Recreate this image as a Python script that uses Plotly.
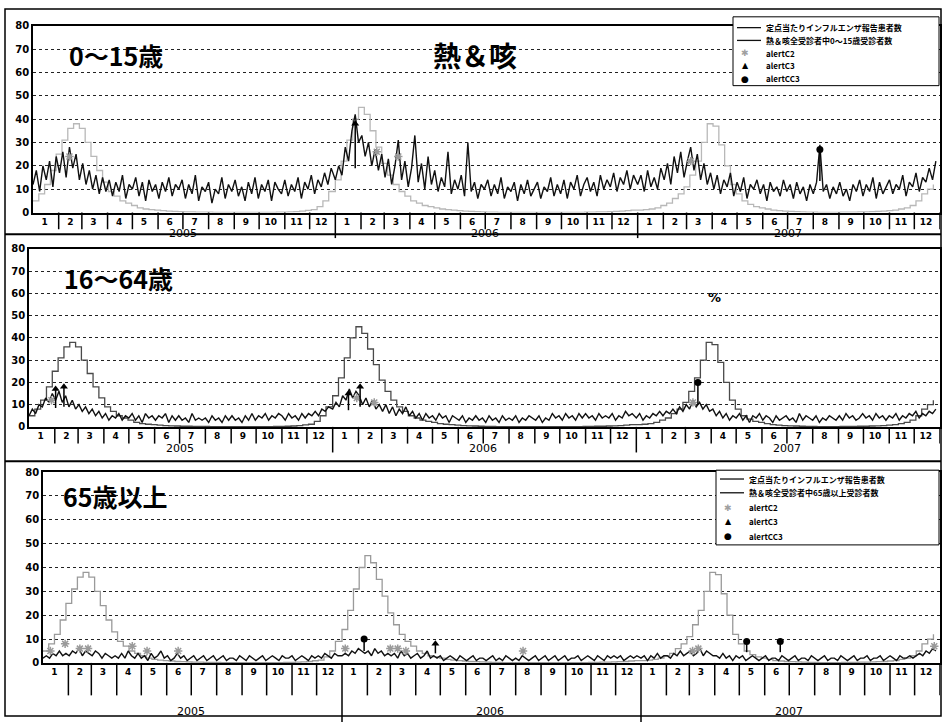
import datetime as dt
import plotly.graph_objects as go

W, H = 943, 723

# ---------------- data ----------------
years = [2005, 2006, 2007]
month_labels = [str(m) for m in range(1, 13)]
panel_titles = ["0～15歳", "16～64歳", "65歳以上"]
chart_title = "熱＆咳"

legend_names_p1 = ["定点当たりインフルエンザ報告患者数", "熱＆咳全受診者中0～15歳受診者数",
                   "alertC2", "alertC3", "alertCC3"]
legend_names_p3 = ["定点当たりインフルエンザ報告患者数", "熱＆咳全受診者中65歳以上受診者数",
                   "alertC2", "alertC3", "alertCC3"]

# weekly influenza reports per sentinel (week starting Jan 1 + 7k)
flu_2005 = [5, 8, 12, 18, 25, 31, 36, 38, 36, 30, 24, 18, 13, 9, 7, 5, 4, 3, 2, 1.5, 1.2, 1, 0.8, 0.6,
            0.5, 0.4, 0.3, 0.3, 0.2, 0.2, 0.2, 0.1, 0.1, 0.1, 0.1, 0.1, 0.1, 0.1, 0.1, 0.1, 0.1, 0.1,
            0.2, 0.2, 0.3, 0.4, 0.6, 0.9, 1.2, 2.5, 5, 9]
flu_2006 = [14, 22, 31, 40, 45, 42, 35, 28, 21, 16, 12, 9, 7, 5, 4, 3, 2.5, 2, 1.5, 1.2, 1, 0.8, 0.6,
            0.5, 0.4, 0.3, 0.2, 0.2, 0.1, 0.1, 0.1, 0.1, 0.1, 0.1, 0.1, 0.1, 0.1, 0.1, 0.1, 0.1, 0.1,
            0.1, 0.1, 0.2, 0.2, 0.3, 0.3, 0.4, 0.5, 0.6, 0.8, 1]
flu_2007 = [1, 1.2, 1.5, 2, 3, 4, 6, 8, 11, 16, 22, 30, 38, 37, 29, 20, 12, 8, 5, 3.5, 2.5, 2, 1.5, 1,
            0.8, 0.6, 0.5, 0.4, 0.3, 0.2, 0.2, 0.1, 0.1, 0.1, 0.1, 0.2, 0.2, 0.2, 0.3, 0.3, 0.4, 0.5,
            0.6, 0.8, 1, 1.5, 2, 3, 5, 8, 10, 12]

# syndromic % (every 4 days from Jan 1)
p1_2005 = [12, 18, 9, 20, 14, 22, 11, 24, 17, 26, 15, 28, 19, 25, 14, 21, 12, 18, 10, 16, 8, 15, 9,
           14, 7, 13, 9, 16, 6, 12, 10, 15, 7, 13, 5, 14, 9, 12, 6, 13, 9, 15, 7, 12, 10,
           14, 6, 12, 8, 16, 5, 11, 9, 13, 4, 10, 8, 15, 6, 12, 9, 14, 7, 11, 5, 13, 8, 15,
           6, 12, 9, 14, 5, 13, 10, 8, 14, 7, 12, 9, 15, 6, 13, 10, 16, 8, 14, 11, 17, 12, 19]
p1_2006 = [14, 20, 16, 28, 22, 35, 42, 30, 33, 24, 30, 20, 27, 18, 25, 15, 23, 12, 20, 31, 14, 22, 11,
           19, 33, 13, 21, 10, 24, 12, 18, 9, 15, 11, 26, 8, 14, 10, 16, 7, 30, 9, 13, 6, 12,
           10, 14, 7, 12, 8, 15, 6, 11, 9, 13, 5, 12, 8, 14, 7, 10, 13, 6, 11, 9, 15, 7, 12,
           8, 14, 6, 13, 10, 16, 7, 12, 15, 9, 13, 7, 16, 10, 14, 11, 17, 9, 15, 12, 18, 10, 16]
p1_2007 = [12, 16, 9, 18, 11, 15, 10, 19, 14, 21, 12, 24, 17, 26, 15, 22, 28, 18, 25, 14, 21, 12, 17,
           10, 16, 8, 14, 11, 17, 7, 13, 9, 15, 6, 12, 10, 14, 8, 12, 5, 13, 9, 11, 7, 14,
           9, 12, 6, 13, 8, 11, 5, 12, 8, 13, 29, 9, 12, 6, 11, 8, 13, 7, 10, 5, 12, 9, 14,
           7, 12, 9, 15, 6, 13, 8, 11, 14, 8, 12, 10, 16, 7, 13, 11, 17, 9, 15, 13, 19, 14, 22]

p2_2005 = [5, 8, 6, 10, 9, 13, 11, 15, 12, 16, 11, 14, 9, 12, 8, 10, 7, 9, 6, 8, 5, 7, 4,
           6, 3, 5, 4, 6, 3, 5, 4, 6, 3, 5, 2, 6, 4, 5, 3, 5, 4, 6, 2, 5, 3,
           5, 3, 4, 2, 6, 3, 4, 3, 4, 2, 5, 3, 4, 2, 5, 3, 5, 3, 4, 2, 5, 3, 6,
           3, 5, 4, 6, 3, 5, 4, 6, 5, 3, 6, 4, 5, 3, 6, 4, 6, 5, 7, 5, 8, 7, 9]
p2_2006 = [8, 11, 9, 14, 12, 17, 13, 16, 14, 10, 13, 9, 12, 8, 10, 7, 10, 6, 9, 5, 8, 6, 9,
           5, 7, 4, 6, 3, 6, 4, 5, 3, 6, 4, 5, 2, 5, 4, 3, 5, 2, 4, 3, 5, 3,
           4, 2, 5, 3, 4, 2, 5, 3, 4, 3, 5, 2, 4, 3, 5, 4, 3, 5, 2, 4, 3, 6, 4,
           5, 3, 6, 4, 5, 3, 6, 4, 6, 4, 5, 3, 6, 4, 5, 4, 6, 3, 5, 4, 7, 5, 6]
p2_2007 = [4, 6, 3, 5, 4, 6, 5, 7, 5, 7, 6, 8, 6, 9, 7, 10, 8, 12, 9, 11, 8, 10, 7,
           8, 5, 7, 4, 6, 3, 5, 4, 6, 3, 5, 2, 5, 4, 6, 3, 5, 4, 2, 5, 3, 4,
           5, 3, 4, 2, 6, 3, 5, 4, 3, 5, 2, 4, 3, 5, 4, 3, 5, 3, 6, 4, 5, 3, 4,
           6, 4, 5, 3, 6, 4, 5, 3, 5, 4, 6, 3, 5, 4, 6, 5, 7, 4, 6, 5, 7, 6, 8]

p3_2005 = [2, 3, 2, 4, 3, 5, 3, 4, 3, 5, 4, 6, 3, 5, 4, 3, 5, 4, 2, 4, 3, 2, 3,
           2, 4, 2, 5, 3, 2, 4, 2, 3, 1, 4, 2, 3, 5, 2, 3, 1, 2, 4, 2, 3, 1,
           2, 3, 1, 2, 3, 1, 2, 3, 1, 2, 3, 1, 2, 2, 1, 3, 2, 1, 3, 2, 1, 2, 3,
           1, 2, 3, 2, 1, 3, 2, 2, 3, 1, 2, 3, 2, 1, 3, 2, 3, 2, 4, 3, 2, 4, 3]
p3_2006 = [3, 4, 3, 5, 4, 6, 5, 4, 5, 3, 6, 4, 5, 3, 4, 3, 4, 2, 5, 3, 4, 2, 3,
           4, 2, 3, 5, 2, 3, 2, 3, 1, 2, 3, 2, 1, 3, 2, 1, 2, 3, 1, 2, 2, 1,
           2, 3, 1, 2, 1, 3, 2, 1, 2, 1, 3, 2, 1, 2, 3, 1, 2, 3, 1, 2, 3, 1, 2,
           3, 1, 2, 2, 3, 1, 2, 3, 2, 1, 3, 2, 1, 3, 2, 3, 2, 3, 1, 2, 3, 2, 3]
p3_2007 = [2, 3, 1, 3, 2, 4, 2, 3, 3, 2, 4, 3, 5, 3, 4, 5, 3, 4, 6, 3, 5, 4, 3,
           3, 2, 4, 2, 3, 1, 3, 2, 3, 1, 2, 3, 2, 1, 2, 3, 1, 2, 2, 1, 3, 2,
           1, 2, 3, 1, 2, 2, 1, 3, 2, 1, 2, 3, 1, 2, 2, 1, 3, 2, 1, 2, 3, 1, 2,
           2, 3, 1, 2, 2, 3, 1, 2, 3, 2, 1, 3, 2, 2, 3, 2, 3, 4, 3, 5, 4, 6, 5]

# alerts: (date, value)
alertC2_p1 = [("2005-02-14", 24), ("2006-02-20", 26), ("2006-03-18", 24), ("2007-03-06", 22)]
alertC3_p1 = [("2006-01-25", 38)]
alertCC3_p1 = [("2007-08-09", 27)]

alertC2_p2 = [("2005-01-28", 12), ("2006-01-30", 13), ("2006-02-20", 11), ("2007-03-10", 11)]
alertC3_p2 = [("2005-02-02", 17), ("2005-02-12", 18), ("2006-01-20", 15), ("2006-02-03", 18)]
alertCC3_p2 = [("2007-03-16", 20)]

alertC2_p3 = [("2005-01-10", 5), ("2005-01-28", 8), ("2005-02-15", 6), ("2005-02-25", 6),
              ("2005-04-20", 7), ("2005-05-08", 5), ("2005-06-15", 5), ("2006-01-05", 6),
              ("2006-03-01", 6), ("2006-03-10", 6), ("2006-03-20", 5), ("2006-08-10", 5),
              ("2007-03-05", 5), ("2007-03-12", 6), ("2007-12-25", 7)]
alertC3_p3 = [("2006-04-25", 8)]
alertCC3_p3 = [("2006-01-28", 10), ("2007-05-10", 9), ("2007-06-20", 9)]

# ---------------- helpers ----------------
def weekly_dates(year, n):
    return [dt.date(year, 1, 1) + dt.timedelta(days=7 * k) for k in range(n)]

def four_day_dates(year, n):
    return [dt.date(year, 1, 1) + dt.timedelta(days=4 * k) for k in range(n)]

flu_x, flu_y = [], []
for y, vals in zip(years, [flu_2005, flu_2006, flu_2007]):
    flu_x += weekly_dates(y, len(vals))
    flu_y += vals

def series(parts):
    xs, ys = [], []
    for y, vals in zip(years, parts):
        xs += four_day_dates(y, len(vals))
        ys += vals
    return xs, ys

syn = [series([p1_2005, p1_2006, p1_2007]),
       series([p2_2005, p2_2006, p2_2007]),
       series([p3_2005, p3_2006, p3_2007])]
alerts = [(alertC2_p1, alertC3_p1, alertCC3_p1),
          (alertC2_p2, alertC3_p2, alertCC3_p2),
          (alertC2_p3, alertC3_p3, alertCC3_p3)]

def pyp(p):
    return 1 - p / H

def pxp(p):
    return p / W

panels = [
    dict(top=20, bot=210, left=33, right=940, cell=17, yearline=26, yearlab=21),
    dict(top=247, bot=428, left=29, right=940, cell=17, yearline=26, yearlab=22),
    dict(top=474, bot=668, left=43, right=940, cell=33, yearline=60, yearlab=49),
]
flu_colors = ["#b8b8b8", "#4a4a4a", "#9a9a9a"]

FONT = "Noto Sans CJK JP"
fig = go.Figure()
layout = dict(width=W, height=H, margin=dict(l=0, r=0, t=0, b=0), autosize=False,
              paper_bgcolor="white", plot_bgcolor="white", showlegend=False,
              font=dict(family=FONT, color="black"))
shapes, annotations = [], []

month_starts = [dt.date(y, m, 1) for y in years for m in range(1, 13)]
mid_months = [d + dt.timedelta(days=14) for d in month_starts]
tick_text = month_labels * len(years)

for i, pn in enumerate(panels):
    sfx = "" if i == 0 else str(i + 1)
    xa, ya = "x" + sfx, "y" + sfx
    common = dict(xaxis=xa, yaxis=ya, showlegend=False)

    fig.add_trace(go.Scatter(x=flu_x, y=flu_y, mode="lines",
                             line=dict(color=flu_colors[i], width=1.3, shape="hv"), **common))
    sx, sy = syn[i]
    fig.add_trace(go.Scatter(x=sx, y=sy, mode="lines", line=dict(color="#111111", width=1.4), **common))
    c2, c3, cc3 = alerts[i]
    fig.add_trace(go.Scatter(x=[a[0] for a in c2], y=[a[1] for a in c2], mode="markers",
                             marker=dict(symbol="asterisk-open", size=7, color="#9a9a9a",
                                         line=dict(width=1.5, color="#9a9a9a")), **common))
    fig.add_trace(go.Scatter(x=[a[0] for a in c3], y=[a[1] for a in c3], mode="markers",
                             marker=dict(symbol="triangle-up", size=7, color="black"),
                             error_y=dict(type="data", symmetric=False, array=[0] * len(c3),
                                          arrayminus=[a[1] * 0.5 for a in c3], width=0, thickness=1.5,
                                          color="black"), **common))
    fig.add_trace(go.Scatter(x=[a[0] for a in cc3], y=[a[1] for a in cc3], mode="markers",
                             marker=dict(symbol="circle", size=7, color="black"),
                             error_y=dict(type="data", symmetric=False, array=[0] * len(cc3),
                                          arrayminus=[a[1] * 0.5 for a in cc3], width=0, thickness=1.5,
                                          color="black"), **common))

    layout["xaxis" + sfx] = dict(domain=[pxp(pn["left"]), pxp(pn["right"])], anchor=ya, type="date",
                                 range=["2005-01-01", "2008-01-01"], showgrid=False, zeroline=False,
                                 showline=True, linecolor="black", linewidth=1.5, mirror=True,
                                 tickmode="array", tickvals=mid_months, ticktext=tick_text, ticks="",
                                 tickfont=dict(size=9, family="DejaVu Sans", weight="bold"), tickangle=0)
    layout["yaxis" + sfx] = dict(domain=[pyp(pn["bot"]), pyp(pn["top"])], anchor=xa, range=[0, 80],
                                 tickmode="linear", tick0=0, dtick=10, showgrid=True, gridcolor="#222222",
                                 griddash="dot", gridwidth=1, zeroline=False, showline=True,
                                 linecolor="black", linewidth=1.5, mirror=True, ticks="",
                                 tickfont=dict(size=10, family="DejaVu Sans", weight="bold"))

    for d in month_starts[1:] + [dt.date(2008, 1, 1)]:
        long_line = d.month == 1 and d.year in (2006, 2007)
        y1 = pn["bot"] + (pn["yearline"] if long_line else pn["cell"])
        shapes.append(dict(type="line", xref=xa, yref="paper", x0=d, x1=d,
                           y0=pyp(pn["bot"]), y1=pyp(y1), line=dict(color="black", width=1.5)))
    for y in years:
        annotations.append(dict(text=str(y), xref=xa, yref="paper", x=dt.date(y, 7, 1),
                                y=pyp(pn["bot"] + pn["yearlab"]), showarrow=False, yanchor="middle",
                                xanchor="center", font=dict(size=11, family="DejaVu Sans", color="black")))

# panel titles
title_pos = [(116, 50), (118, 277), (115, 498)]
for t, (tx, ty) in zip(panel_titles, title_pos):
    annotations.append(dict(text=t, xref="paper", yref="paper", x=pxp(tx), y=pyp(ty), showarrow=False,
                            xanchor="center", yanchor="middle",
                            font=dict(size=25, family=FONT, weight="bold", color="black")))
annotations.append(dict(text=chart_title, xref="paper", yref="paper", x=pxp(475), y=pyp(50), showarrow=False,
                        xanchor="center", yanchor="middle",
                        font=dict(size=28, family=FONT, weight="bold", color="black")))
annotations.append(dict(text="%", xref="paper", yref="paper", x=pxp(714), y=pyp(296), showarrow=False,
                        xanchor="center", yanchor="middle",
                        font=dict(size=13, family="DejaVu Sans", weight="bold", color="black")))

# outer frame and panel separators
shapes.append(dict(type="rect", xref="paper", yref="paper", x0=pxp(5), x1=pxp(941), y0=pyp(722), y1=pyp(3),
                   line=dict(color="black", width=1.5)))
for sep in (232, 463):
    shapes.append(dict(type="line", xref="paper", yref="paper", x0=pxp(5), x1=pxp(941), y0=pyp(sep),
                       y1=pyp(sep), line=dict(color="black", width=2)))

# hand-drawn legend boxes (compact, like the original)
def draw_legend(box, rows, names, line_colors):
    x0, y0, x1, y1 = box
    shapes.append(dict(type="rect", xref="paper", yref="paper", x0=pxp(x0), x1=pxp(x1), y0=pyp(y1), y1=pyp(y0),
                       line=dict(color="black", width=1), fillcolor="white", layer="above"))
    sx0, sx1, tx = x0 + 4, x0 + 28, x0 + 32
    for k in range(2):
        shapes.append(dict(type="line", xref="paper", yref="paper", x0=pxp(sx0), x1=pxp(sx1),
                           y0=pyp(rows[k]), y1=pyp(rows[k]), line=dict(color=line_colors[k], width=1.3),
                           layer="above"))
    glyphs = [("✱", "#a0a0a0", 9), ("▲", "black", 8), ("●", "black", 9)]
    for k, (g, c, s) in enumerate(glyphs):
        annotations.append(dict(text=g, xref="paper", yref="paper", x=pxp((sx0 + sx1) / 2 - 4),
                                y=pyp(rows[k + 2]), showarrow=False, xanchor="center", yanchor="middle",
                                borderpad=0, font=dict(size=s, family="DejaVu Sans", color=c)))
    for k, nm in enumerate(names):
        annotations.append(dict(text=nm, xref="paper", yref="paper", x=pxp(tx), y=pyp(rows[k]),
                                showarrow=False, xanchor="left", yanchor="middle", borderpad=0,
                                font=dict(size=8, family=FONT, weight="bold", color="black")))

draw_legend((733, 11, 939, 81), [22, 35, 48, 61, 74], legend_names_p1, ["#111111", "#111111"])
draw_legend((716, 472, 939, 548), [481, 495, 510, 524, 539], legend_names_p3, ["#111111", "#111111"])

layout["shapes"] = shapes
layout["annotations"] = annotations
fig.update_layout(**layout)

fig.write_html("out.html", config={"displayModeBar": False},
               post_script="document.body.style.margin='0px';")
